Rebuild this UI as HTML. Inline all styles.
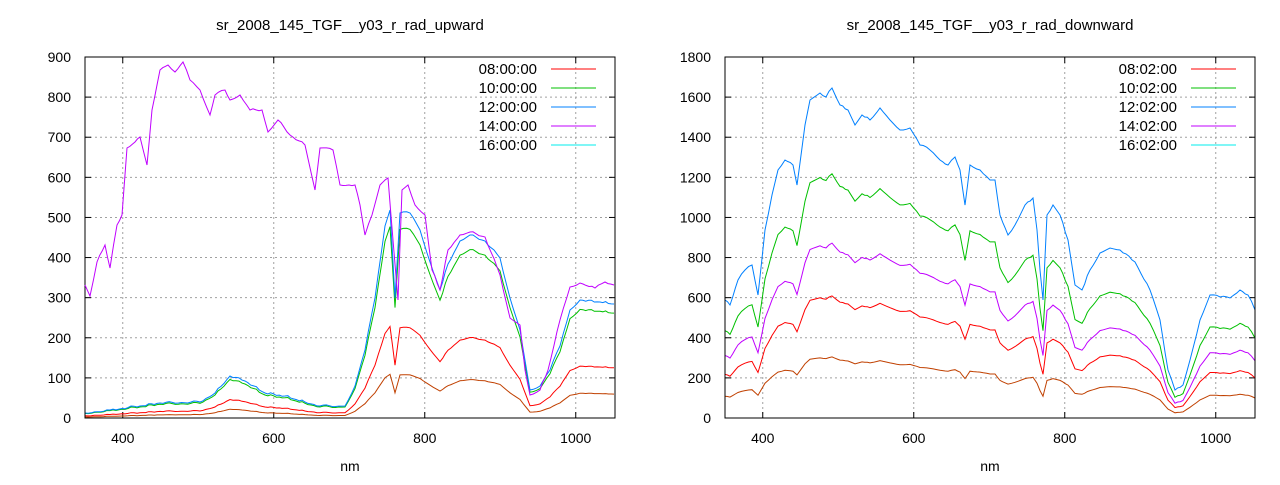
<!DOCTYPE html>
<html><head><meta charset="utf-8"><style>
html,body{margin:0;padding:0;background:#fff}
svg text{font-family:"Liberation Sans",sans-serif;font-size:14px;fill:#000}
svg text.t{font-size:15px}
</style></head><body>
<svg id="s" width="1280" height="480" xmlns="http://www.w3.org/2000/svg"></svg>
<script>
const S=document.getElementById('s');let h='';
function dense(p){const o=[];for(let i=0;i<p.length-1;i++){const [a,b]=p[i],[c,d]=p[i+1];const n=Math.max(1,Math.round((c-a)/3));for(let k=0;k<n;k++){const x=a+(c-a)*k/n;o.push([x,b+(d-b)*k/n+(k?1.2*Math.sin(x*2.7)*Math.sin(x*0.9):0)]);}}o.push(p[p.length-1]);return o;}
function plot(x0,title,ymax,ystep,blue,facs,leg){
 const x1=x0+530,y0=57,y1=418;
 const X=n=>x0+(n-350)*0.755, Y=v=>y1-v*(y1-y0)/ymax;
 h+=`<text class="t" x="${(x0+x1)/2}" y="30" text-anchor="middle">${title}</text>`;
 for(let v=0;v<=ymax;v+=ystep){const y=Y(v);
  if(v>0&&v<ymax)h+=`<line x1="${x0}" x2="${x1}" y1="${y}" y2="${y}" stroke="#a0a0a0" stroke-dasharray="2,3"/>`;
  h+=`<line x1="${x0}" x2="${x0+6}" y1="${y}" y2="${y}" stroke="#000"/><line x1="${x1-6}" x2="${x1}" y1="${y}" y2="${y}" stroke="#000"/>`;
  h+=`<text x="${x0-14}" y="${y+5}" text-anchor="end">${v}</text>`;}
 for(let n=400;n<=1000;n+=200){const x=X(n);
  h+=`<line x1="${x}" x2="${x}" y1="${y0}" y2="${y1}" stroke="#a0a0a0" stroke-dasharray="2,3"/>`;
  h+=`<line x1="${x}" x2="${x}" y1="${y1}" y2="${y1-6}" stroke="#000"/><line x1="${x}" x2="${x}" y1="${y0}" y2="${y0+6}" stroke="#000"/>`;
  h+=`<text x="${x}" y="443" text-anchor="middle">${n}</text>`;}
 h+=`<text x="${(x0+x1)/2}" y="471" text-anchor="middle">nm</text>`;
 const db=dense(blue);
 facs.forEach(([f,c])=>{
  const pts=db.map(([px,py])=>`${px.toFixed(1)},${(y1-(y1-py)*f).toFixed(1)}`).join(' ');
  h+=`<polyline points="${pts}" fill="none" stroke="${c}" stroke-width="1"/>`;});
 const lc=['#ff0000','#00c000','#0080ff','#c000ff','#00eeee'];
 leg.forEach((t,i)=>{const y=69+i*19;
  h+=`<text class="t" x="${x0+452}" y="${y+5}" text-anchor="end">${t}</text><line x1="${x0+466}" x2="${x0+511}" y1="${y}" y2="${y}" stroke="${lc[i]}"/>`;});
 h+=`<rect x="${x0}" y="${y0}" width="530" height="361" fill="none" stroke="#000"/>`;
}
const Lb=[[85,413],[110,410],[140,406],[160,403],[200,402],[215,393],[230,376],[245,381],[265,393],[285,396],[305,402],[320,406],[345,406],[355,386],[365,350],[375,298],[385,226],[390,210],[395,298],[400,213],[410,213],[420,230],[430,262],[440,290],[448,264],[460,241],[470,235],[485,241],[500,258],[510,298],[520,330],[530,390],[540,386],[550,370],[560,346],[570,310],[580,300],[600,302],[614,304]];
const Lp=[[85,285],[90,296],[97,262],[105,245],[110,268],[117,225],[122,215],[127,148],[135,142],[140,137],[147,165],[152,110],[160,70],[168,65],[175,72],[183,62],[190,80],[200,90],[210,115],[215,95],[225,90],[230,100],[240,95],[250,110],[262,110],[268,132],[278,120],[290,135],[305,145],[315,190],[320,148],[333,150],[340,185],[355,185],[360,205],[365,235],[372,215],[380,185],[388,178],[393,240],[398,300],[402,190],[408,185],[415,205],[425,215],[432,270],[440,290],[448,250],[460,235],[470,232],[485,237],[500,275],[510,318],[520,325],[525,370],[530,395],[540,390],[548,370],[560,320],[570,287],[580,283],[595,288],[605,282],[614,285]];
plot(85,'sr_2008_145_TGF__y03_r_rad_upward',900,100,Lb,[[0.21,'#c04000'],[0.44,'#ff0000'],[0.92,'#00c000'],[1,'#0080ff']],['08:00:00','10:00:00','12:00:00','14:00:00','16:00:00']);
h+=`<polyline points="${dense(Lp).map(p=>p[0].toFixed(1)+','+p[1].toFixed(1)).join(' ')}" fill="none" stroke="#c000ff"/>`;
const Rb=[[725,300],[730,305],[738,280],[745,270],[752,265],[758,295],[765,230],[772,195],[778,170],[785,160],[793,165],[797,185],[805,125],[810,100],[820,93],[826,97],[832,88],[840,105],[848,110],[855,125],[862,115],[870,120],[880,108],[890,120],[900,130],[910,128],[920,145],[930,150],[940,160],[948,165],[955,157],[960,170],[965,205],[970,165],[980,170],[990,180],[995,180],[1000,215],[1008,235],[1015,225],[1025,205],[1033,198],[1037,230],[1040,270],[1043,300],[1047,215],[1053,205],[1060,215],[1068,240],[1075,285],[1082,290],[1090,270],[1100,253],[1110,248],[1120,250],[1135,262],[1150,290],[1160,320],[1168,370],[1175,390],[1183,385],[1190,360],[1200,320],[1210,295],[1220,297],[1230,298],[1240,290],[1248,295],[1255,310]];
plot(725,'sr_2008_145_TGF__y03_r_rad_downward',1800,200,Rb,[[0.185,'#c04000'],[0.37,'#ff0000'],[0.53,'#c000ff'],[0.74,'#00c000'],[1,'#0080ff']],['08:02:00','10:02:00','12:02:00','14:02:00','16:02:00']);
S.innerHTML=h;
</script>
</body></html>
